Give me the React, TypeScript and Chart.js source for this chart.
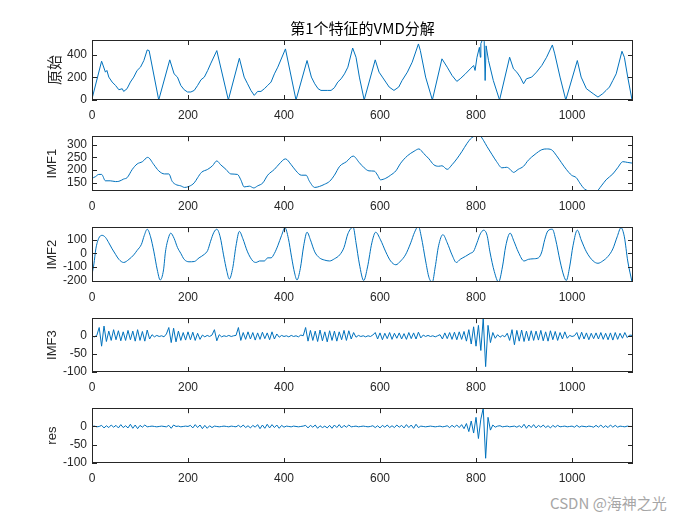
import React, { useEffect, useRef } from 'react';
import { Chart, registerables } from 'chart.js';

Chart.register(...registerables);

// ---------- data ----------
const titleText = '第1个特征的VMD分解';
const xTicks = [0, 200, 400, 600, 800, 1000];
const X_MAX = 1127;

const origX = [0, 20, 28, 31, 35, 42, 49, 56, 63, 66, 73, 80, 87, 94, 101, 108, 115, 119, 139, 162, 171, 178, 185, 192, 199, 206, 213, 220, 227, 234, 241, 247, 260, 284, 307, 317, 324, 331, 338, 345, 352, 359, 366, 373, 380, 387, 403, 425, 448, 457, 464, 471, 477, 491, 498, 505, 512, 519, 526, 533, 543, 550, 557, 567, 590, 598, 605, 612, 619, 629, 639, 646, 657, 667, 680, 684, 695, 709, 729, 740, 750, 760, 767, 778, 788, 795, 798, 802, 807, 809, 810, 814, 817, 819, 821, 826, 836, 849, 870, 878, 885, 892, 899, 905, 916, 926, 937, 947, 959, 964, 975, 987, 1011, 1019, 1030, 1044, 1054, 1064, 1071, 1078, 1085, 1092, 1104, 1109, 1116, 1125];
const origY = [10, 344, 247, 262, 203, 159, 129, 91, 100, 76, 100, 159, 203, 262, 291, 350, 444, 438, 0, 356, 232, 203, 129, 91, 71, 71, 85, 129, 179, 203, 262, 320, 438, 0, 370, 203, 144, 85, 41, 76, 76, 100, 129, 159, 232, 291, 453, 0, 350, 203, 144, 100, 85, 85, 85, 109, 159, 188, 232, 291, 461, 379, 203, 0, 356, 247, 203, 159, 115, 85, 115, 173, 247, 335, 497, 438, 203, 0, 365, 291, 218, 165, 188, 232, 276, 306, 262, 379, 467, 379, 500, 541, 520, 173, 480, 350, 173, 0, 379, 276, 247, 203, 144, 188, 203, 247, 306, 379, 488, 409, 203, 0, 350, 203, 100, 56, 26, 56, 85, 115, 173, 232, 432, 379, 203, 0];

const imf1X = [0, 7, 14, 20, 28, 38, 49, 56, 66, 73, 84, 94, 105, 116, 129, 139, 151, 160, 167, 174, 185, 193, 202, 213, 220, 228, 241, 251, 260, 268, 279, 289, 303, 310, 317, 328, 337, 345, 356, 366, 380, 390, 403, 415, 425, 436, 446, 453, 464, 474, 484, 495, 505, 516, 530, 544, 557, 567, 577, 588, 595, 601, 612, 622, 633, 643, 657, 671, 681, 691, 702, 712, 722, 729, 740, 750, 760, 771, 781, 791, 802, 809, 816, 823, 833, 843, 854, 864, 871, 878, 888, 899, 909, 923, 937, 947, 957, 968, 978, 988, 999, 1009, 1016, 1026, 1040, 1051, 1061, 1071, 1085, 1095, 1106, 1116, 1127];
const imf1Y = [168, 174, 183, 183, 158, 158, 155, 156, 165, 170, 203, 224, 233, 250, 221, 197, 185, 185, 156, 144, 138, 132, 136, 150, 170, 191, 203, 217, 236, 221, 203, 185, 183, 162, 134, 137, 130, 138, 150, 180, 203, 224, 244, 221, 197, 180, 180, 156, 132, 136, 144, 156, 180, 215, 233, 255, 229, 209, 197, 196, 180, 162, 168, 180, 197, 227, 256, 274, 283, 265, 244, 221, 215, 217, 203, 221, 244, 274, 304, 327, 335, 333, 315, 292, 262, 233, 209, 211, 203, 191, 203, 215, 239, 262, 280, 283, 280, 256, 229, 203, 180, 170, 150, 126, 118, 118, 138, 162, 185, 209, 233, 230, 227];

const imf2X = [0, 4, 8, 14, 21, 28, 35, 42, 49, 56, 66, 77, 87, 94, 103, 109, 115, 122, 129, 136, 142, 149, 153, 159, 164, 171, 178, 185, 192, 202, 213, 223, 234, 241, 247, 254, 260, 267, 274, 281, 286, 293, 300, 307, 314, 324, 335, 342, 349, 359, 366, 373, 380, 387, 395, 402, 409, 416, 422, 427, 434, 441, 448, 455, 464, 474, 484, 495, 505, 516, 525, 533, 544, 550, 557, 566, 574, 583, 591, 601, 612, 622, 633, 643, 653, 664, 672, 680, 686, 695, 702, 709, 715, 722, 731, 740, 750, 759, 767, 778, 788, 795, 802, 809, 816, 823, 829, 838, 847, 855, 862, 871, 879, 888, 900, 909, 919, 930, 937, 943, 950, 959, 966, 975, 983, 988, 995, 1002, 1011, 1019, 1030, 1044, 1054, 1064, 1075, 1085, 1094, 1102, 1109, 1116, 1125];
const imf2Y = [-156, -78, 33, 111, 133, 118, 78, 33, -7, -44, -67, -44, -11, 22, 67, 133, 178, 122, 11, -122, -196, -122, 11, 111, 149, 111, 44, 0, -44, -62, -60, -33, -7, 22, 89, 156, 178, 122, -11, -133, -189, -111, 56, 162, 111, 11, -56, -67, -56, -56, -33, -33, 0, 56, 133, 189, 111, -33, -144, -196, -111, 56, 156, 100, 11, -33, -49, -56, -40, -11, 44, 144, 193, 78, -78, -200, -100, 78, 156, 100, 11, -56, -84, -56, -11, 78, 156, 200, 122, -56, -178, -211, -100, 56, 138, 78, -11, -67, -44, -22, 0, 16, 78, 144, 171, 133, 11, -133, -211, -100, 56, 149, 89, 11, -56, -44, -40, -33, 11, 100, 167, 178, 100, -56, -167, -200, -100, 56, 171, 100, 11, -56, -73, -56, -22, 33, 122, 189, 122, -56, -211];

const sampleStep = 5;
const imf3Values = [
  0, -2, 2, 24, -28, 28, -15, 14, -12, 18,
  -10, 15, -13, 12, -12, 16, -10, 14, -14, 18,
  -12, 13, -14, 17, -8, 4, -2, 2, -1, 1,
  -2, 6, 24, -18, 22, -16, 14, -12, 10, -11,
  12, -10, 11, -12, 8, -9, 3, -2, 2, -1,
  3, 18, -13, 4, -2, 1, -1, 2, -1, 1,
  2, 24, -12, 10, -9, 12, -8, 10, -11, 9,
  -9, 11, -7, 9, -10, 12, -8, 6, -3, 2,
  -1, 1, -2, 2, -1, 1, -2, 3, 1, 24,
  -14, 16, -12, 14, -15, 17, -13, 12, -16, 15,
  -12, 14, -14, 12, -10, 16, -12, 15, -8, 10,
  -3, 2, -1, 1, -2, 1, -1, 3, 10, -8,
  9, -10, 8, -7, 10, -9, 8, -6, 9, -8,
  7, -9, 10, -7, 9, -8, 11, -5, 3, -1,
  2, -1, 1, -2, 1, 4, -8, 9, -7, 10,
  -9, 11, -10, 12, -9, 13, -14, 18, -22, 26,
  -28, 30, -40, 50, -85, 30, -18, 10, -6, 4,
  -3, 2, -2, 8, -12, 18, -24, 16, -14, 17,
  -15, 14, -13, 15, -12, 14, -11, 16, -13, 12,
  -14, 15, -10, 13, -12, 10, -8, 12, -6, 2,
  -1, 1, 10, -9, 11, -8, 9, -10, 8, -7,
  9, -8, 10, -9, 8, -10, 9, -11, 10, -9,
  8, -6, 10, -4, 3, 2,
];
const resValues = [
  0, 1, -1, 0, 3, -4, 2, -3, 4, -2,
  3, -4, 5, -3, 2, -4, 6, -5, 4, -6,
  3, -2, 4, -1, 0, 1, 0, -1, 0, 1,
  0, -1, 3, -5, 4, 0, 1, -1, 0, 1,
  0, 3, -4, 5, -3, 4, -6, 3, -5, 2,
  -3, 1, 0, -1, 0, 1, 0, -1, 1, 0,
  -1, 3, -2, 4, -3, 2, -4, 3, -2, 5,
  -6, 4, -5, 6, -4, 5, -3, 4, -5, 3,
  -2, 1, 0, -1, 1, 0, -1, 0, 1, 3,
  -4, 3, -2, 4, -5, 2, -3, 1, -4, 3,
  -5, 4, -3, 5, -4, 3, -2, 4, -1, 0,
  1, -1, 0, 1, 0, -1, 0, 2, -3, 2,
  -4, 3, -2, 4, -3, 2, -3, 4, -2, 3,
  -4, 5, -3, 4, -5, 6, -3, 1, 0, -1,
  0, 1, 0, -1, 0, 1, -1, 0, 2, -3,
  3, -2, 4, -3, 5, -6, 8, -14, 15, -18,
  25, -33, 20, 50, -87, 25, -10, 4, -2, 1,
  2, -1, 0, 1, -1, 0, 1, -2, 2, -3,
  6, -5, 4, -3, 5, -4, 3, -2, 4, -3,
  2, -4, 3, -2, 3, -1, 0, 1, -1, 0,
  1, -2, 3, -2, 1, 0, -1, 1, 0, -2,
  3, -2, 4, -3, 2, -3, 4, -2, 3, -2,
  1, 0, -1, 1, 0, 0,
];

const labels = ['原始', 'IMF1', 'IMF2', 'IMF3', 'res'];
const yTicksList = [[0, 200, 400], [150, 200, 250, 300], [-200, -100, 0, 100], [-100, -50, 0], [-100, -50, 0]];
const yRanges = [[0, 532], [118, 333], [-211, 193], [-100, 50], [-100, 50]];

// ---------- styles / layout ----------
const LINE_COLOR = '#0072BD';
const AXIS_COLOR = '#262626';
const FONT = "'Liberation Sans', Arial, 'Noto Sans CJK SC', sans-serif";
const PLOT_LEFT = 92;
const PLOT_RIGHT = 633;
const X_AXIS_H = 28;
const panelTops = [40, 130, 221, 312, 402];
const panelHeights = [60, 61, 61, 60, 61];

const toPoints = (xs: number[], ys: number[]) => xs.map((x, i) => ({ x, y: ys[i] }));
const stepPoints = (vals: number[]) => vals.map((y, i) => ({ x: i * sampleStep, y }));

const seriesList = [
  { pts: toPoints(origX, origY), smooth: false },
  { pts: toPoints(imf1X, imf1Y), smooth: true },
  { pts: toPoints(imf2X, imf2Y), smooth: true },
  { pts: stepPoints(imf3Values), smooth: false },
  { pts: stepPoints(resValues), smooth: false },
];

const boxPlugin = {
  id: 'matlabBox',
  afterDatasetsDraw(chart: any) {
    const { ctx, chartArea, scales } = chart;
    const { left, right, top, bottom } = chartArea;
    const TL = 5;
    ctx.save();
    ctx.strokeStyle = AXIS_COLOR;
    ctx.lineWidth = 1;
    ctx.beginPath();
    for (const t of scales.x.ticks) {
      const px = Math.round(scales.x.getPixelForValue(t.value)) + 0.5;
      ctx.moveTo(px, bottom);
      ctx.lineTo(px, bottom - TL);
      ctx.moveTo(px, top);
      ctx.lineTo(px, top + TL);
    }
    for (const t of scales.y.ticks) {
      const py = Math.round(scales.y.getPixelForValue(t.value)) + 0.5;
      ctx.moveTo(left, py);
      ctx.lineTo(left + TL, py);
      ctx.moveTo(right, py);
      ctx.lineTo(right - TL, py);
    }
    ctx.stroke();
    ctx.strokeRect(Math.round(left) + 0.5, Math.round(top) + 0.5, Math.round(right - left) - 1, Math.round(bottom - top) - 1);
    ctx.restore();
  },
};

function Panel({ idx }: { idx: number }) {
  const ref = useRef<HTMLCanvasElement>(null);
  const hasTitle = idx === 0;
  const padTop = hasTitle ? 0 : 6;
  const canvasTop = hasTitle ? 0 : panelTops[idx] - padTop;
  const canvasH = (panelTops[idx] - canvasTop) + panelHeights[idx] + X_AXIS_H;

  useEffect(() => {
    const s = seriesList[idx];
    const chart = new Chart(ref.current as HTMLCanvasElement, {
      type: 'line',
      data: {
        datasets: [
          {
            data: s.pts,
            borderColor: LINE_COLOR,
            borderWidth: 1,
            pointRadius: 0,
            fill: false,
            tension: 0,
            cubicInterpolationMode: s.smooth ? 'monotone' : 'default',
          } as any,
        ],
      },
      plugins: [boxPlugin],
      options: {
        responsive: false,
        animation: false,
        devicePixelRatio: 1,
        layout: { padding: { left: 0, right: 700 - PLOT_RIGHT, top: padTop, bottom: 0 } },
        plugins: {
          legend: { display: false },
          tooltip: { enabled: false },
          title: hasTitle
            ? {
                display: true,
                text: titleText,
                fullSize: false,
                color: '#000',
                font: { family: "'Noto Sans CJK SC', 'Liberation Sans', sans-serif", size: 15, weight: 'normal', lineHeight: 1.2 },
                padding: { top: 19, bottom: 3 },
              }
            : { display: false },
        },
        scales: {
          x: {
            type: 'linear',
            min: 0,
            max: X_MAX,
            grid: { display: false, drawTicks: false },
            border: { display: false },
            ticks: {
              color: AXIS_COLOR,
              font: { family: FONT, size: 12 },
              padding: 8,
              maxRotation: 0,
              autoSkip: false,
              callback: (v: any) => String(v),
            },
            afterBuildTicks: (scale: any) => {
              scale.ticks = xTicks.map((v) => ({ value: v }));
            },
            afterFit: (scale: any) => {
              scale.height = X_AXIS_H;
            },
          },
          y: {
            type: 'linear',
            min: yRanges[idx][0],
            max: yRanges[idx][1],
            grid: { display: false, drawTicks: false },
            border: { display: false },
            ticks: {
              color: AXIS_COLOR,
              font: { family: FONT, size: 12 },
              padding: 5,
              autoSkip: false,
              callback: (v: any) => String(v),
            },
            title: {
              display: true,
              text: labels[idx],
              color: AXIS_COLOR,
              font: { family: idx === 0 ? "'Noto Sans CJK SC', sans-serif" : FONT, size: idx === 0 ? 15 : 13 },
              padding: { top: 45, bottom: 0 },
            },
            afterBuildTicks: (scale: any) => {
              scale.ticks = yTicksList[idx].map((v) => ({ value: v }));
            },
            afterFit: (scale: any) => {
              scale.width = PLOT_LEFT;
            },
          },
        },
      } as any,
    });
    return () => chart.destroy();
  }, [idx]);

  return (
    <canvas
      ref={ref}
      width={700}
      height={canvasH}
      style={{ position: 'absolute', left: 0, top: canvasTop, width: 700, height: canvasH }}
    />
  );
}

export default function App() {
  return (
    <div style={{ position: 'fixed', left: 0, top: 0, width: 700, height: 525, background: '#fff', overflow: 'hidden' }}>
      {labels.map((_, i) => (
        <Panel key={i} idx={i} />
      ))}
      <div
        style={{
          position: 'absolute',
          left: 550,
          top: 492,
          fontFamily: "'Noto Sans CJK SC', sans-serif",
          fontSize: 15,
          color: '#a6a6a6',
          whiteSpace: 'nowrap',
        }}
      >
        CSDN @海神之光
      </div>
    </div>
  );
}
